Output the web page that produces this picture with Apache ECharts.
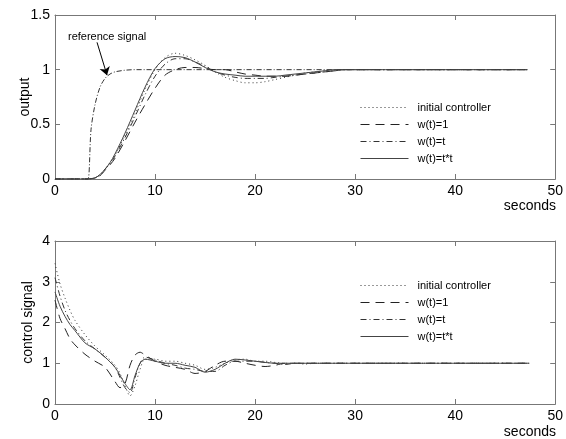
<!DOCTYPE html>
<html>
<head>
<meta charset="utf-8">
<script src="https://cdn.jsdelivr.net/npm/echarts@6/dist/echarts.min.js"></script>
<style>
html,body{margin:0;padding:0;background:#fff;}
#main{width:566px;height:439px;}
</style>
</head>
<body>
<div id="main"></div>
<script>
// 上图：输出（时间，秒）
var tOut = [0,1,2,3,3.3,3.6,4,4.5,5,5.5,6,7,8,9,10,11,12,13,14,15,16,17,18,19,20,21,22,23,24,25,26,27,28,29,30,32,34,36,38,40,42,44,46,47.2];
var refSignal = [0,0,0,0,0,0.45,0.68,0.84,0.92,0.96,0.98,0.995,1,1,1,1,1,1,1,1,1,1,1,1,1,1,1,1,1,1,1,1,1,1,1,1,1,1,1,1,1,1,1,1];
var outInitial = [0,0,0,0,0,0.003,0.01,0.04,0.09,0.15,0.22,0.4,0.6,0.82,1.0,1.11,1.15,1.13,1.09,1.04,0.98,0.93,0.9,0.88,0.88,0.89,0.91,0.93,0.95,0.97,0.98,0.99,1,1,1,1,1,1,1,1,1,1,1,1];
var outW1 = [0,0,0,0,0,0.003,0.01,0.03,0.08,0.13,0.19,0.35,0.52,0.68,0.83,0.95,1.0,1.02,1.02,1.01,1.0,1.0,0.98,0.96,0.95,0.94,0.94,0.94,0.95,0.96,0.97,0.98,0.99,1,1,1,1,1,1,1,1,1,1,1];
var outWt = [0,0,0,0,0,0.003,0.01,0.04,0.09,0.14,0.21,0.38,0.57,0.77,0.94,1.05,1.1,1.1,1.07,1.03,0.98,0.95,0.93,0.92,0.92,0.92,0.93,0.94,0.95,0.96,0.97,0.98,0.99,1,1,1,1,1,1,1,1,1,1,1];
var outWtt = [0,0,0,0,0,0.003,0.01,0.04,0.09,0.15,0.23,0.42,0.63,0.84,1.01,1.1,1.12,1.11,1.07,1.02,0.98,0.96,0.95,0.94,0.94,0.94,0.94,0.95,0.96,0.97,0.98,0.99,1,1,1,1,1,1,1,1,1,1,1,1];

// 下图：控制信号
var tCtrl = [0,0.5,1,1.5,2,3,4,5,6,6.5,7,7.5,8,8.5,9,10,11,12,13,14,15,16,17,18,19,20,21,22,23,24,25,26,27,28,30,32,34,36,38,40,42,44,46,47.4];
var ctrlInitial = [3.45,2.95,2.6,2.3,2.05,1.7,1.42,1.2,0.95,0.75,0.45,0.2,0.45,0.85,1.1,1.1,1.05,1.05,1.0,0.95,0.85,0.9,1.0,1.08,1.1,1.05,1.05,1.02,1.0,1.0,0.98,1.0,1,1,1,1,1,1,1,1,1,1,1,1];
var ctrlW1 = [2.55,2.1,1.85,1.6,1.45,1.22,1.05,0.9,0.55,0.4,0.5,0.95,1.2,1.27,1.2,1.05,0.95,0.9,0.85,0.75,0.8,0.95,1.05,1.05,1.0,0.95,0.92,0.95,1.0,1.0,1,1,1,1,1,1,1,1,1,1,1,1,1,1];
var ctrlWt = [3.1,2.65,2.3,2.05,1.85,1.55,1.35,1.15,0.9,0.65,0.4,0.28,0.65,1.0,1.15,1.08,1.0,0.95,0.88,0.85,0.8,0.8,0.95,1.05,1.05,1.05,1.02,1.0,0.97,1.0,1,1,1,1,1,1,1,1,1,1,1,1,1,1];
var ctrlWtt = [2.75,2.4,2.15,1.95,1.8,1.5,1.35,1.15,0.9,0.7,0.5,0.35,0.7,1.0,1.1,1.05,1.0,1.0,0.95,0.9,0.78,0.85,1.0,1.1,1.08,1.05,1.02,1.0,1.0,1.0,1,1,1,1,1,1,1,1,1,1,1,1,1,1];

var seriesNames = ['initial controller','w(t)=1','w(t)=t','w(t)=t*t'];
var arrowFrom = [4.2,1.25], arrowTo = [5.2,0.95];

function zip(t, v){
	var r = [];
	for(var i=0;i<t.length;i++){ r.push([t[i], v[i]]); }
	return r;
}

var font = 'Liberation Sans, Arial, sans-serif';
var frame = '#777';
var styles = [
	{color:'#333', type:[1,3], width:1},
	{color:'#222', type:[9,6], width:1},
	{color:'#333', type:[6,3,1,3], width:1},
	{color:'#444', type:'solid', width:1}
];

function xAx(gi, pos){
	return {
		type:'value', gridIndex:gi, position:pos, min:0, max:50, interval:10,
		axisLine:{show:true, onZero:false, lineStyle:{color:frame}},
		axisTick:{show:true, inside:true, length:5, lineStyle:{color:frame}},
		axisLabel:{show:pos==='bottom', color:'#000', fontSize:14, fontFamily:font, margin:5},
		splitLine:{show:false}
	};
}
function yAx(gi, pos, max, step, name, gap){
	return {
		type:'value', gridIndex:gi, position:pos, min:0, max:max, interval:step,
		name: pos==='left' ? name : '', nameLocation:'middle', nameGap:gap||20, nameMoveOverlap:false,
		nameTextStyle:{color:'#000', fontSize:14, fontFamily:font},
		axisLine:{show:true, onZero:false, lineStyle:{color:frame}},
		axisTick:{show:true, inside:true, length:5, lineStyle:{color:frame}},
		axisLabel:{show:pos==='left', color:'#000', fontSize:14, fontFamily:font, margin:5},
		splitLine:{show:false}
	};
}
function line(name, gi, t, v, st){
	return {
		name:name, type:'line', xAxisIndex:gi*2, yAxisIndex:gi*2,
		data:zip(t, v), smooth:0.3, showSymbol:false, symbol:'none',
		lineStyle:st, itemStyle:{color:st.color}, animation:false
	};
}

var outSeries = [outInitial, outW1, outWt, outWtt];
var ctrlSeries = [ctrlInitial, ctrlW1, ctrlWt, ctrlWtt];
var series = [];
var refLine = line('reference signal', 0, tOut, refSignal, {color:'#333', type:[5,2,1,2], width:1});
refLine.markLine = {
	silent:true, symbol:['none','arrow'], symbolSize:8, label:{show:false},
	lineStyle:{color:'#000', type:'solid', width:1},
	data:[[{coord:arrowFrom},{coord:arrowTo}]]
};
series.push(refLine);
for(var i=0;i<4;i++){
	series.push(line(seriesNames[i], 0, tOut, outSeries[i], styles[i]));
	series.push(line(seriesNames[i], 1, tCtrl, ctrlSeries[i], styles[i]));
}

var legendText = {color:'#000', fontSize:11, fontFamily:font, padding:[0,0,0,4]};
var option = {
	backgroundColor:'#fff',
	animation:false,
	grid:[
		{left:55, right:10, top:15, height:164},
		{left:55, right:10, top:241, height:163}
	],
	xAxis:[xAx(0,'bottom'), xAx(0,'top'), xAx(1,'bottom'), xAx(1,'top')],
	yAxis:[yAx(0,'left',1.5,0.5,'output',23), yAx(0,'right',1.5,0.5,''), yAx(1,'left',4,1,'control signal',20), yAx(1,'right',4,1,'')],
	legend:[
		{data:seriesNames, orient:'vertical', left:355, top:97, itemWidth:48, itemHeight:10, itemGap:6, textStyle:legendText, itemStyle:{opacity:0}, lineStyle:{width:1}, selectedMode:false},
		{data:seriesNames, orient:'vertical', left:355, top:275, itemWidth:48, itemHeight:10, itemGap:6, textStyle:legendText, itemStyle:{opacity:0}, lineStyle:{width:1}, selectedMode:false}
	],
	graphic:[
		{type:'text', left:68, top:31, style:{text:'reference signal', fill:'#000', font:'11px '+font}},
		{type:'text', right:10, top:199, style:{text:'seconds', fill:'#000', font:'14px '+font}},
		{type:'text', right:10, top:425, style:{text:'seconds', fill:'#000', font:'14px '+font}}
	],
	series:series
};

var myChart = echarts.init(document.getElementById('main'));
myChart.setOption(option);
</script>
</body>
</html>
